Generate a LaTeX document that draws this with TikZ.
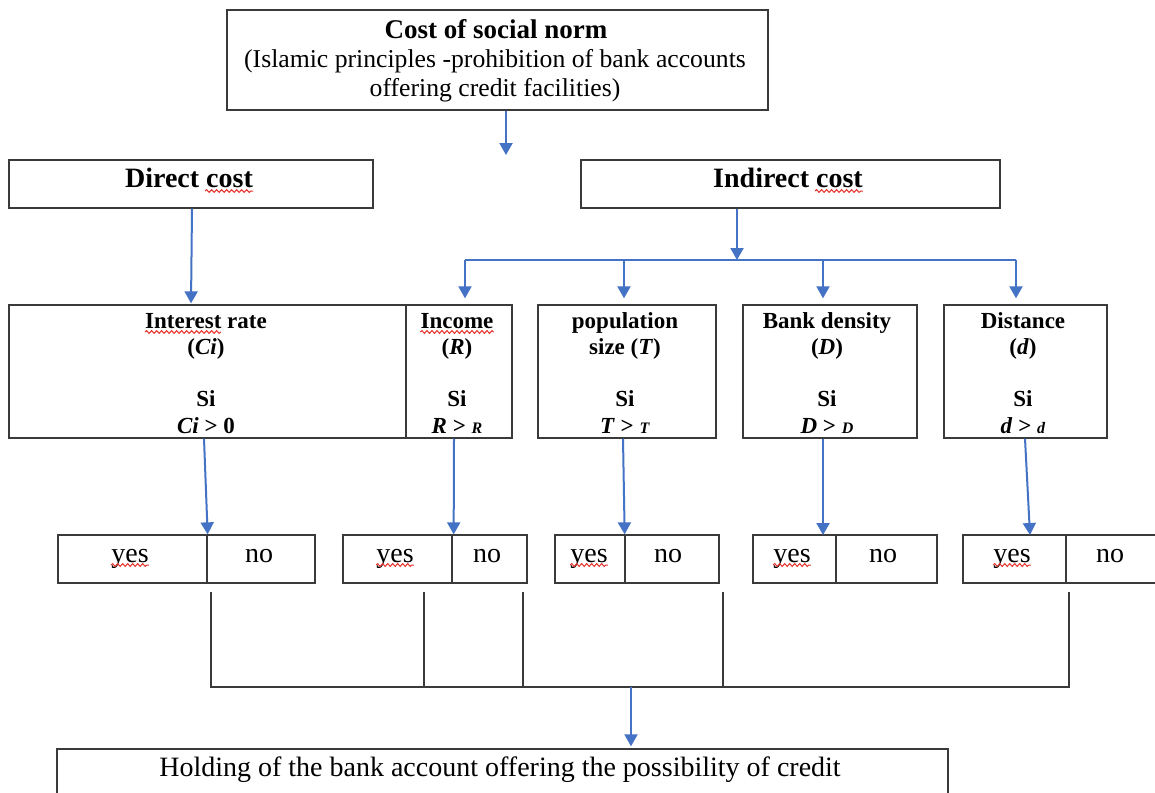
\documentclass[tikz,border=0pt]{standalone}
\usepackage{fontspec}
\setmainfont{Liberation Serif}
\usetikzlibrary{arrows.meta,fit,decorations.pathmorphing}
\definecolor{arrblue}{HTML}{4472C4}
\definecolor{boxgray}{HTML}{3A3A3A}
\definecolor{spellred}{HTML}{E8302A}
\newcommand\smv[1]{{\fontsize{16}{16}\selectfont\textit{#1}}}
\begin{document}
\begin{tikzpicture}[x=1pt,y=-1pt,
  rect/.style={draw=boxgray, line width=1.3pt, inner sep=0pt},
  arr/.style={draw=arrblue, line width=2pt, -{Triangle[width=13pt,length=12pt]}},
  bline/.style={draw=arrblue, line width=2pt},
  gline/.style={draw=boxgray, line width=1.3pt},
  txt/.style={anchor=base, inner sep=0pt},
  rowtxt/.style={txt, font=\fontsize{23}{26.3}\selectfont\bfseries},
  yntxt/.style={txt, font=\fontsize{28}{30}\selectfont},
  squig/.style={draw=spellred, line width=1pt, decorate, decoration={snake, amplitude=1.4pt, segment length=5pt}},
]
\useasboundingbox (0,0) rectangle (1155,792);
\clip (0,0) rectangle (1155,792);
\fill[white] (0,0) rectangle (1155,792);

% top box
\node[rect, fit={(227,10) (768,110)}] (top) {};
\node[txt, font=\fontsize{27}{29}\selectfont\bfseries] (toptitle) at (496,38) {Cost of social norm};
\node[txt, font=\fontsize{25.7}{29}\selectfont] (topsub) at (495,67)
  {\begin{tabular}[t]{@{}c@{}}(Islamic principles -prohibition of bank accounts\\offering credit facilities)\end{tabular}};

% direct / indirect
\node[rect, fit={(9,160) (373,208)}] (direct) {};
\node[txt, font=\fontsize{28}{30}\selectfont\bfseries] (directt) at (189,187) {Direct cost};
\node[rect, fit={(581,160) (1000,208)}] (indirect) {};
\node[txt, font=\fontsize{28}{30}\selectfont\bfseries] (indirectt) at (788,187) {Indirect cost};

\coordinate (a0) at (506,155);
\draw[arr] (top.south -| a0) -- (a0);

% row boxes
\node[rect, fit={(9,305) (406,438)}] (ir) {};
\node[rect, fit={(406,305) (512,438)}] (inc) {};
\node[rect, fit={(538,305) (716,438)}] (pop) {};
\node[rect, fit={(743,305) (917,438)}] (bank) {};
\node[rect, fit={(944,305) (1107,438)}] (dist) {};

\node[rowtxt] (irt) at (206,328) {\begin{tabular}[t]{@{}c@{}}Interest rate\\(\textit{Ci})\\ \\Si\\\textit{Ci} > 0\end{tabular}};
\node[rowtxt] (inct) at (457,328) {\begin{tabular}[t]{@{}c@{}}Income\\(\textit{R})\\ \\Si\\\textit{R} > \smv{R}\end{tabular}};
\node[rowtxt] (popt) at (625,328) {\begin{tabular}[t]{@{}c@{}}population\\size (\textit{T})\\ \\Si\\\textit{T} > \smv{T}\end{tabular}};
\node[rowtxt] (bankt) at (827,328) {\begin{tabular}[t]{@{}c@{}}Bank density\\(\textit{D})\\ \\Si\\\textit{D} > \smv{D}\end{tabular}};
\node[rowtxt] (distt) at (1023,328) {\begin{tabular}[t]{@{}c@{}}Distance\\(\textit{d})\\ \\Si\\\textit{d} > \smv{d}\end{tabular}};

% direct arrow
\coordinate (dtop) at (192,211);
\coordinate (dbot) at (191,304);
\draw[arr, shorten >=1pt] (direct.south -| dtop) -- (ir.north -| dbot);

% indirect arrows
\coordinate (hub) at (737,260);
\coordinate (hl) at (465,260);
\coordinate (hp) at (624,260);
\coordinate (hb) at (823,260);
\coordinate (hr) at (1016,260);
\draw[arr] (indirect.south -| hub) -- (hub);
\draw[bline] (hl) -- (hr);
\draw[arr, shorten >=6pt] (hl) -- (hl |- inc.north);
\draw[arr, shorten >=6pt] (hp) -- (hp |- pop.north);
\draw[arr, shorten >=6pt] (hb) -- (hb |- bank.north);
\draw[arr, shorten >=6pt] (hr) -- (hr |- dist.north);

% yes / no boxes
\node[rect, fit={(58,535) (207,583)}] (y1) {};
\node[rect, fit={(207,535) (315,583)}] (n1) {};
\node[rect, fit={(343,535) (452,583)}] (y2) {};
\node[rect, fit={(452,535) (527,583)}] (n2) {};
\node[rect, fit={(555,535) (625,583)}] (y3) {};
\node[rect, fit={(625,535) (719,583)}] (n3) {};
\node[rect, fit={(753,535) (836,583)}] (y4) {};
\node[rect, fit={(836,535) (937,583)}] (n4) {};
\node[rect, fit={(963,535) (1066,583)}] (y5) {};
\node[rect, fit={(1066,535) (1170,583)}] (n5) {};

\node[yntxt] (ty1) at (130,562) {yes};
\node[yntxt] (tn1) at (259,562) {no};
\node[yntxt] (ty2) at (395,562) {yes};
\node[yntxt] (tn2) at (487,562) {no};
\node[yntxt] (ty3) at (589,562) {yes};
\node[yntxt] (tn3) at (668,562) {no};
\node[yntxt] (ty4) at (792,562) {yes};
\node[yntxt] (tn4) at (883,562) {no};
\node[yntxt] (ty5) at (1012,562) {yes};
\node[yntxt] (tn5) at (1110,562) {no};

% arrows rows -> yes/no
\coordinate (s1) at (204,0);
\coordinate (s2) at (454,0);
\coordinate (s3) at (623,0);
\coordinate (s4) at (823,0);
\coordinate (e4) at (823,535);
\coordinate (s5) at (1025,0);
\coordinate (e5) at (1030,535);
\draw[arr] (ir.south -| s1) -- (y1.north east);
\draw[arr] (inc.south -| s2) -- ([xshift=1pt]y2.north east);
\draw[arr] (pop.south -| s3) -- ([xshift=-1pt]y3.north east);
\draw[arr] (bank.south -| s4) -- (e4);
\draw[arr] (dist.south -| s5) -- (e5);

% gray collector lines
\coordinate (g1) at (211,592);
\coordinate (g2) at (424,592);
\coordinate (g3) at (523,592);
\coordinate (g4) at (723,592);
\coordinate (g5) at (1069,592);
\coordinate (barL) at (211,687);
\coordinate (barR) at (1069,687);
\draw[gline] (g1) -- (barL) -- (barR) -- (g5);
\draw[gline] (g2) -- (g2 |- barL);
\draw[gline] (g3) -- (g3 |- barL);
\draw[gline] (g4) -- (g4 |- barL);

% bottom box
\node[rect, fit={(57,749) (948,820)}] (bottom) {};
\node[txt, font=\fontsize{28}{30}\selectfont] (bottomt) at (500,776) {Holding of the bank account offering the possibility of credit};
\coordinate (bs) at (631,687);
\draw[arr, shorten >=2pt] (bs) -- (bs |- bottom.north);

% spell-check marks
\draw[squig] ([yshift=-4pt]irt.base west) -- ([xshift=76pt,yshift=-4pt]irt.base west);
\draw[squig] ([yshift=-4pt]inct.base west) -- ([yshift=-4pt]inct.base east);
\draw[squig] ([xshift=-48pt,yshift=-4pt]directt.base east) -- ([yshift=-4pt]directt.base east);
\draw[squig] ([xshift=-48pt,yshift=-4pt]indirectt.base east) -- ([yshift=-4pt]indirectt.base east);
\foreach \n in {ty1,ty2,ty3,ty4,ty5}
  \draw[squig] ([yshift=-3pt]\n.base west) -- ([yshift=-3pt]\n.base east);
\end{tikzpicture}
\end{document}
